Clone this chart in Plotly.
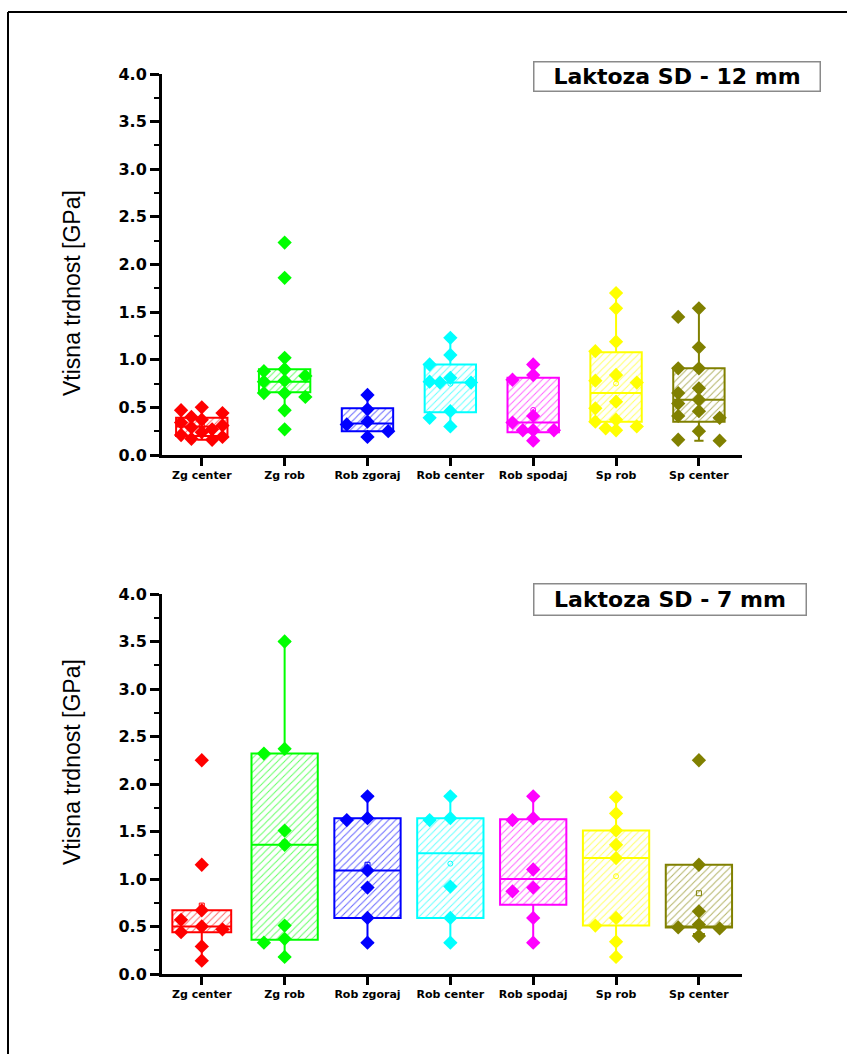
import numpy as np
import plotly.graph_objects as go

# ---------------- data ----------------
categories = ["Zg center", "Zg rob", "Rob zgoraj", "Rob center", "Rob spodaj", "Sp rob", "Sp center"]
y_ticks = [0.0, 0.5, 1.0, 1.5, 2.0, 2.5, 3.0, 3.5, 4.0]
y_title = "Vtisna trdnost [GPa]"
label_12 = "Laktoza SD - 12 mm"
label_7 = "Laktoza SD - 7 mm"

# 12 mm – individual measurements
pts12_zg_center = [0.50, 0.47, 0.44, 0.40, 0.37, 0.34, 0.31, 0.29, 0.27, 0.24, 0.21, 0.19, 0.17, 0.16]
pts12_zg_rob = [2.23, 1.86, 1.02, 0.90, 0.88, 0.83, 0.78, 0.77, 0.65, 0.65, 0.61, 0.47, 0.27]
pts12_rob_zgoraj = [0.63, 0.48, 0.35, 0.32, 0.25, 0.19]
pts12_rob_center = [1.23, 1.05, 0.95, 0.81, 0.77, 0.76, 0.76, 0.46, 0.39, 0.30]
pts12_rob_spodaj = [0.95, 0.84, 0.79, 0.41, 0.34, 0.26, 0.26, 0.26, 0.15]
pts12_sp_rob = [1.70, 1.54, 1.19, 1.09, 0.84, 0.78, 0.76, 0.56, 0.49, 0.37, 0.35, 0.30, 0.28, 0.26]
pts12_sp_center = [1.54, 1.45, 1.13, 0.91, 0.91, 0.70, 0.65, 0.58, 0.54, 0.46, 0.41, 0.39, 0.25, 0.16, 0.15]

# 12 mm – box statistics
q1_12 = [0.20, 0.66, 0.25, 0.45, 0.24, 0.35, 0.35]
med_12 = [0.30, 0.77, 0.33, 0.76, 0.34, 0.65, 0.58]
q3_12 = [0.39, 0.90, 0.49, 0.95, 0.81, 1.08, 0.91]
lo_12 = [0.16, 0.47, 0.19, 0.30, 0.15, 0.26, 0.15]
hi_12 = [0.50, 1.02, 0.63, 1.23, 0.95, 1.70, 1.54]

# 7 mm – individual measurements
pts7_zg_center = [2.25, 1.15, 0.67, 0.57, 0.50, 0.47, 0.44, 0.29, 0.14]
pts7_zg_rob = [3.50, 2.37, 2.32, 1.51, 1.36, 0.51, 0.37, 0.33, 0.18]
pts7_rob_zgoraj = [1.87, 1.64, 1.62, 1.09, 0.91, 0.59, 0.33]
pts7_rob_center = [1.87, 1.64, 1.62, 0.92, 0.59, 0.33]
pts7_rob_spodaj = [1.87, 1.64, 1.62, 1.10, 0.91, 0.87, 0.59, 0.33]
pts7_sp_rob = [1.86, 1.69, 1.51, 1.36, 1.22, 0.59, 0.51, 0.34, 0.18]
pts7_sp_center = [2.25, 1.15, 0.66, 0.52, 0.49, 0.48, 0.40]

# 7 mm – box statistics
q1_7 = [0.44, 0.36, 0.59, 0.59, 0.73, 0.51, 0.49]
med_7 = [0.50, 1.36, 1.09, 1.27, 1.00, 1.22, 0.50]
q3_7 = [0.67, 2.32, 1.64, 1.64, 1.63, 1.51, 1.15]
lo_7 = [0.14, 0.18, 0.33, 0.33, 0.33, 0.18, 0.42]
hi_7 = [0.67, 3.50, 1.87, 1.87, 1.87, 1.86, 1.15]

pts12 = [pts12_zg_center, pts12_zg_rob, pts12_rob_zgoraj, pts12_rob_center,
         pts12_rob_spodaj, pts12_sp_rob, pts12_sp_center]
pts7 = [pts7_zg_center, pts7_zg_rob, pts7_rob_zgoraj, pts7_rob_center,
        pts7_rob_spodaj, pts7_sp_rob, pts7_sp_center]

# ---------------- style ----------------
colors = ["#FF0000", "#00FF00", "#0000FF", "#00FFFF", "#FF00FF", "#FFFF00", "#808000"]
mean_symbols = ["square-open", "square-open", "square-open", "circle-open",
                "circle-open", "circle-open", "square-open"]
W, H = 847, 1054
BOX_W = {"x": [0.62] * 7, "x2": [0.71, 0.80, 0.80, 0.80, 0.80, 0.80, 0.80]}
PX_PER_UNIT = 95.0
TICK_FONT = "DejaVu Sans"


def spread(vals, step=0.125, size_px=10.0):
    """Simple deterministic overlap avoidance of diamond markers."""
    order = [0, -2, 2, -1, 1]
    placed = []
    offs = []
    for v in vals:
        chosen = None
        for s in order:
            if all(ps != s or abs(v - pv) * PX_PER_UNIT >= size_px for ps, pv in placed):
                chosen = s
                break
        if chosen is None:
            chosen = min(order, key=lambda s: -min([abs(v - pv) for ps, pv in placed if ps == s] or [9]))
        placed.append((chosen, v))
        offs.append(chosen * step)
    return offs


fig = go.Figure()

panels = [
    ("x", "y", pts12, q1_12, med_12, q3_12, lo_12, hi_12),
    ("x2", "y2", pts7, q1_7, med_7, q3_7, lo_7, hi_7),
]

for xa, ya, pts, q1, med, q3, lo, hi in panels:
    bws = BOX_W[xa]
    xs = list(range(len(categories)))
    # hatched box bodies
    fig.add_trace(go.Bar(
        x=xs, y=[b - a for a, b in zip(q1, q3)], base=q1, width=bws,
        marker=dict(color="white",
                    pattern=dict(shape="/", fgcolor=colors, bgcolor="white",
                                 size=5, solidity=0.2, fgopacity=0.6),
                    line=dict(width=0)),
        xaxis=xa, yaxis=ya, showlegend=False, hoverinfo="skip"))
    # box outlines & whiskers
    for i in xs:
        fig.add_trace(go.Box(
            x=[i], q1=[q1[i]], median=[med[i]], q3=[q3[i]],
            lowerfence=[lo[i]], upperfence=[hi[i]],
            width=bws[i], whiskerwidth=0.18, orientation="v",
            line=dict(color=colors[i], width=2), fillcolor="rgba(0,0,0,0)",
            boxpoints=False, xaxis=xa, yaxis=ya, showlegend=False, hoverinfo="skip"))
    # individual points
    for i in xs:
        offs = spread(pts[i])
        fig.add_trace(go.Scatter(
            x=[i + o for o in offs], y=pts[i], mode="markers",
            marker=dict(symbol="diamond", size=11, color=colors[i], line=dict(width=0)),
            xaxis=xa, yaxis=ya, showlegend=False, hoverinfo="skip"))
    # means
    for i in xs:
        fig.add_trace(go.Scatter(
            x=[i], y=[float(np.mean(pts[i]))], mode="markers",
            marker=dict(symbol=mean_symbols[i], size=5, color=colors[i], line=dict(width=1, color=colors[i])),
            xaxis=xa, yaxis=ya, showlegend=False, hoverinfo="skip"))

x_dom = [162 / W, 742 / W]
top_dom = [1 - 455 / H, 1 - 74 / H]
bot_dom = [1 - 974 / H, 1 - 594 / H]

xaxis_common = dict(
    range=[-0.48, 6.52], tickmode="array", tickvals=list(range(len(categories))),
    ticktext=categories, showline=True, linewidth=3, linecolor="black",
    ticks="outside", ticklen=8, tickwidth=3, tickcolor="black",
    showgrid=False, zeroline=False, domain=x_dom, fixedrange=True,
    tickfont=dict(family=TICK_FONT, size=11, color="black", weight="bold"),
    automargin=False,
)
yaxis_common = dict(
    range=[0, 4], tickmode="array", tickvals=y_ticks,
    ticktext=[f"{v:.1f}" for v in y_ticks],
    showline=True, linewidth=3, linecolor="black",
    ticks="outside", ticklen=9, tickwidth=3, tickcolor="black",
    minor=dict(ticks="outside", ticklen=5, tickwidth=2, tickcolor="black", dtick=0.25, tick0=0, showgrid=False),
    showgrid=False, zeroline=False, fixedrange=True,
    tickfont=dict(family=TICK_FONT, size=16, color="black", weight="bold"),
    automargin=False,
)

fig.update_layout(
    width=W, height=H, margin=dict(l=0, r=0, t=0, b=0),
    paper_bgcolor="white", plot_bgcolor="white",
    boxmode="overlay", barmode="overlay",
    xaxis=dict(xaxis_common, anchor="y"),
    yaxis=dict(yaxis_common, domain=top_dom, anchor="x"),
    xaxis2=dict(xaxis_common, anchor="y2"),
    yaxis2=dict(yaxis_common, domain=bot_dom, anchor="x2"),
)

# y-axis titles
for yc in [1 - 293 / H, 1 - 762 / H]:
    fig.add_annotation(
        x=72 / W, y=yc, xref="paper", yref="paper", text=y_title, textangle=-90,
        showarrow=False, xanchor="center", yanchor="middle",
        font=dict(family="Liberation Sans, Arial", size=23, color="black"))

# label boxes
for txt, x0, x1, y0, y1 in [(label_12, 533, 820, 61, 91), (label_7, 533, 806, 583, 615)]:
    fig.add_annotation(
        x=(x0 + x1) / 2 / W, y=1 - (y0 + y1) / 2 / H, xref="paper", yref="paper",
        text=f"<b>{txt}</b>", showarrow=False, xanchor="center", yanchor="middle",
        width=x1 - x0 - 4, height=y1 - y0 - 4, align="center", valign="middle",
        bgcolor="white", bordercolor="#8a8a8a", borderwidth=1.5, borderpad=1,
        font=dict(family=TICK_FONT, size=22, color="black"))

# outer frame (left and top edges visible)
fig.add_shape(type="line", xref="paper", yref="paper", x0=8 / W, x1=8 / W, y0=-0.05, y1=1 - 12 / H,
              line=dict(color="black", width=2))
fig.add_shape(type="line", xref="paper", yref="paper", x0=8 / W, x1=1.05, y0=1 - 12 / H, y1=1 - 12 / H,
              line=dict(color="black", width=2))

fig.write_html("out.html", config={"displayModeBar": False},
               post_script="document.body.style.margin='0';document.body.style.overflow='hidden';")
